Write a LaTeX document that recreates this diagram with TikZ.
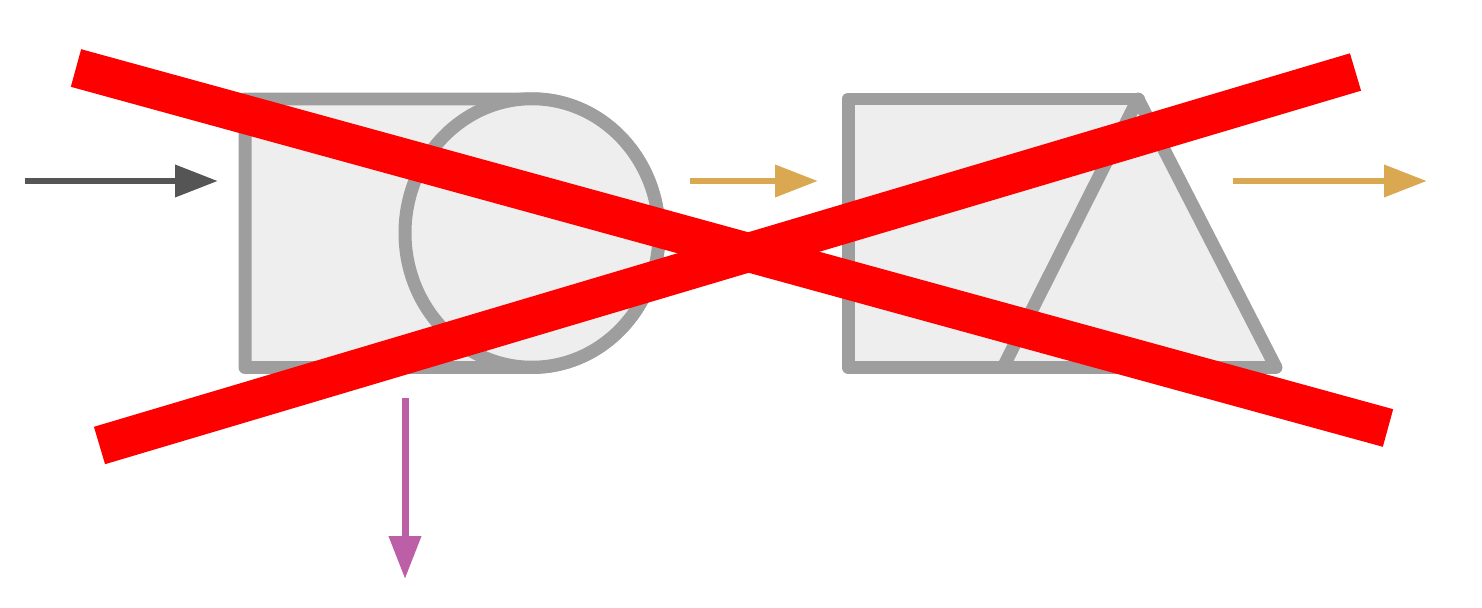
\documentclass[tikz,border=0pt]{standalone}
\usepackage{tikz}
\usetikzlibrary{arrows.meta, calc}
\definecolor{edgegray}{HTML}{9E9E9E}
\definecolor{fillgray}{HTML}{EEEEEE}
\definecolor{darkflow}{HTML}{555555}
\definecolor{goldflow}{HTML}{DAA850}
\definecolor{purpleflow}{HTML}{BC5FA6}
\definecolor{crossred}{HTML}{FF0000}
\tikzset{
  unit/.style={draw=edgegray, fill=fillgray, line width=0.26cm, line join=round},
  flow/.style={line width=0.14cm, -{Triangle[length=0.86cm, width=0.62cm]}},
  cross/.style={draw=crossred, line width=0.78cm, line cap=butt},
}
\begin{document}
\begin{tikzpicture}[x=0.02cm, y=-0.02cm]
  \useasboundingbox (0,0) rectangle (1482,608);

  % left unit: box with round end and drum
  \draw[unit] (245,99) -- (532,99)
    arc[start angle=-90, end angle=90, x radius=127, y radius=134.25]
    -- (245,367.5) -- cycle;
  \draw[unit] (532,233) ellipse[x radius=127, y radius=134.25];

  % right unit: box and cone
  \draw[unit] (848,99) rectangle (1138,367.5);
  \draw[unit] (1138,99) -- (1276,367.5) -- (1003,367.5) -- cycle;

  % flow ends
  \coordinate (feed) at (25,181);
  \coordinate (feedin) at (218,181);
  \coordinate (midout) at (690,181);
  \coordinate (midin) at (818,181);
  \coordinate (prodout) at (1233,181);
  \coordinate (prod) at (1427,181);
  \coordinate (drainout) at (405,398);
  \coordinate (drain) at (405,579);

  \draw[flow, draw=darkflow, fill=darkflow] (feed) -- (feedin);
  \draw[flow, draw=goldflow, fill=goldflow] (midout) -- (midin);
  \draw[flow, draw=goldflow, fill=goldflow] (prodout) -- (prod);
  \draw[flow, draw=purpleflow, fill=purpleflow] (drainout) -- (drain);

  % struck out
  \coordinate (xa) at (76,68);
  \coordinate (xb) at (1388,428);
  \coordinate (xc) at (99.5,445.5);
  \coordinate (xd) at (1355.5,72);
  \draw[cross] (xa) -- (xb);
  \draw[cross] (xc) -- (xd);
\end{tikzpicture}
\end{document}
